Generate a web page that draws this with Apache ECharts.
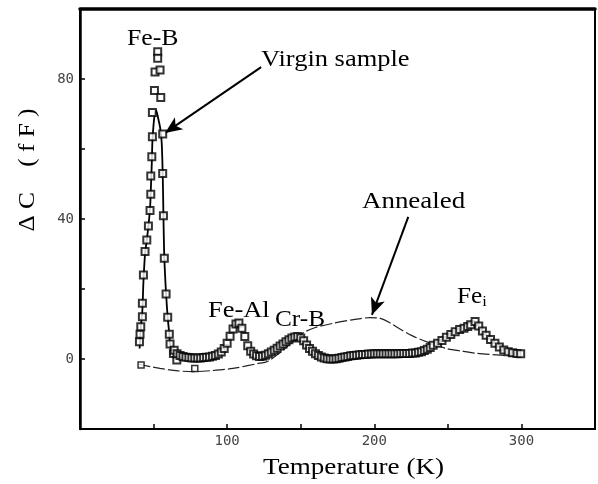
<!DOCTYPE html>
<html>
<head>
<meta charset="utf-8">
<script src="https://cdn.jsdelivr.net/npm/echarts@6/dist/echarts.min.js"></script>
<style>html,body{margin:0;padding:0;background:#fff;}#c{width:598px;height:484px;}</style>
</head>
<body>
<div id="c"></div>
<script>
// Virgin sample: measured squares (T in K, ΔC in fF)
var virginT = [40.4,40.8,41.3,42.4,42.4,43.1,44.2,45.4,46.5,47.6,48.1,48.1,48.8,49.2,49.2,50.6,51,52.8,52.8,54.4,54.9,56.2,56.2,56.7,57.3,58.5,59.6,60.7,61.2,63.5,65.8,
  64,66,68,70,72,74,76,78,80,82,84,86,88,90,92,94,96,98,100,102,104,106,108,110,112,114,116,118,120,122,124,126,128,130,132,134,136,138,140,142,144,146,148,150,152,154,156,158,160,162,164,166,168,170,172,174,176,178,180,182,184,186,188,190,192,194,196,198,200,202,204,206,208,210,212,214,216,218,220,222,224,226,228,230,232,234,236,238,240,
  243,246,249,252,255,258,261,263.5,265.5,268.5,271,273.5,276,279,282,285,288,291,294,297,299.5];
var virginC = [4.9,7.1,9.2,12.1,15.9,24,30.7,34,38,42.4,47.1,52.3,57.8,63.5,70.4,76.7,82,87.8,85.9,82.6,74.7,64.3,53,40.9,28.8,18.6,11.9,7.1,4.3,1.6,-0.3,
  2.5,1.5,1.0,0.7,0.5,0.4,0.3,0.3,0.3,0.3,0.4,0.5,0.6,0.8,1.0,1.4,2.0,3.0,4.5,6.5,8.6,10.0,10.3,8.8,6.4,3.8,2.2,1.4,0.9,0.7,0.8,1.1,1.5,2.0,2.5,3.1,3.7,4.3,4.9,5.5,6.0,6.3,6.4,6.0,5.2,4.0,3.0,2.2,1.5,1.0,0.6,0.3,0.1,0.0,0.0,0.1,0.2,0.4,0.6,0.7,0.9,1.0,1.1,1.2,1.3,1.3,1.4,1.4,1.5,1.5,1.5,1.5,1.5,1.5,1.5,1.5,1.5,1.6,1.6,1.6,1.6,1.7,1.7,1.9,2.1,2.4,2.8,3.3,3.9,4.5,
  5.3,6.2,7.0,7.8,8.4,8.8,9.3,9.8,10.7,9.4,8.0,6.8,5.6,4.5,3.4,2.6,2.1,1.8,1.6,1.5,1.4];
// Virgin sample: fitted curve
var fitT = [40.5,41.3,42.4,43.1,44.2,45.4,46.5,47.6,48.1,48.8,49.2,50,51,51.7,53,54.5,55.5,56.2,56.7,57.3,58.5,59.6,60.7,61.2,63.5,66,70];
var fitC = [3,9,14,22,30,34,38,43,48,56,62,67,70.5,71,69,66,62,53,41,29,18.6,11.9,7.1,4.3,1.6,0.3,0.3];
// Annealed curve
var annT = [39.7,54.4,66.9,77,90,104,122,127,135,142,148,153,160,172,185,197,204,210,217.7,226,235.8,249,260,270,285.7,300];
var annC = [-1.5,-2.7,-3.4,-3.6,-3.3,-2.7,-1.2,-0.8,1.5,4.0,6.2,7.8,9.0,10.2,11.2,11.8,11.6,10.5,8.5,6.6,4.9,3.0,2.2,1.6,1.1,0.6];
var annMarkT = [41.5,78];
var annMarkC = [-1.7,-2.7];
// Axis tick labels
var xLabels = [100,200,300];
var yLabels = [0,40,80];

function zip(a,b){return a.map(function(v,i){return [v,b[i]];});}

var chart = echarts.init(document.getElementById('c'));
var serif = 'Liberation Serif';
chart.setOption({
  animation:false,
  backgroundColor:'#fff',
  grid:{left:80,top:9,right:2,bottom:55,show:true,borderColor:'#000',borderWidth:2,backgroundColor:'transparent'},
  xAxis:[{
    type:'value',min:0,max:350,interval:50,
    axisLine:{show:true,onZero:false,lineStyle:{color:'#000',width:2}},
    axisTick:{show:true,inside:true,length:5,lineStyle:{color:'#000',width:1.5}},
    splitLine:{show:false},
    axisLabel:{margin:5,color:'#444',fontFamily:'DejaVu Sans Mono',fontSize:14,
      formatter:function(v){return xLabels.indexOf(v)>=0?String(v):'';}}
  },{
    type:'value',position:'top',min:0,max:350,
    axisLine:{show:true,onZero:false,lineStyle:{color:'#000',width:3.5}},
    axisTick:{show:false},axisLabel:{show:false},splitLine:{show:false}
  }],
  yAxis:{
    type:'value',min:-20,max:100,interval:20,
    axisLine:{show:true,onZero:false,lineStyle:{color:'#000',width:2.5}},
    axisTick:{show:true,inside:true,length:5,lineStyle:{color:'#000',width:1.5}},
    splitLine:{show:false},
    axisLabel:{margin:6,color:'#444',fontFamily:'DejaVu Sans Mono',fontSize:14,
      formatter:function(v){return yLabels.indexOf(v)>=0?String(v):'';}}
  },
  series:[
    {name:'Annealed',type:'line',data:zip(annT,annC),showSymbol:false,smooth:0.3,z:2,
      lineStyle:{color:'#222',width:1.2,type:[12,3]},
      markLine:{silent:true,symbol:['none','arrow'],symbolSize:[11,17],label:{show:false},
        lineStyle:{color:'#000',width:2,type:'solid'},
        data:[
          [{coord:[123.1,83.4]},{coord:[57.8,64.6]}],
          [{coord:[223.1,40.6]},{coord:[198.4,12.6]}]
        ]}
    },
    {name:'Annealed marks',type:'scatter',data:zip(annMarkT,annMarkC),symbol:'rect',symbolSize:6,z:3,
      itemStyle:{color:'#fff',borderColor:'#000',borderWidth:1.5}},
    {name:'Virgin fit',type:'line',data:zip(fitT,fitC),showSymbol:false,smooth:0.3,z:4,
      lineStyle:{color:'#000',width:1.8}},
    {name:'Virgin sample',type:'scatter',data:zip(virginT,virginC),symbol:'rect',symbolSize:7,z:5,
      itemStyle:{color:'#fff',borderColor:'#000',borderWidth:2}}
  ],
  graphic:[
    {type:'text',x:127,y:39,scaleX:1.12,z:10,style:{text:'Fe-B',font:'23px "Liberation Serif"',fill:'#000',verticalAlign:'middle',align:'left'}},
    {type:'text',x:261,y:60,scaleX:1.15,z:10,style:{text:'Virgin sample',font:'23px "Liberation Serif"',fill:'#000',verticalAlign:'middle',align:'left'}},
    {type:'text',x:362,y:202,scaleX:1.17,z:10,style:{text:'Annealed',font:'23px "Liberation Serif"',fill:'#000',verticalAlign:'middle',align:'left'}},
    {type:'text',x:208,y:311,scaleX:1.15,z:10,style:{text:'Fe-Al',font:'23px "Liberation Serif"',fill:'#000',verticalAlign:'middle',align:'left'}},
    {type:'text',x:275,y:320,scaleX:1.1,z:10,style:{text:'Cr-B',font:'23px "Liberation Serif"',fill:'#000',verticalAlign:'middle',align:'left'}},
    {type:'text',x:457,y:297,scaleX:1.1,z:10,style:{rich:{b:{fontFamily:serif,fontSize:23,fill:'#000'},s:{fontFamily:serif,fontSize:15,fill:'#000',padding:[10,0,0,0]}},text:'{b|Fe}{s|i}',verticalAlign:'middle',align:'left'}},
    {type:'text',x:263,y:468,scaleX:1.13,z:10,style:{text:'Temperature (K)',font:'24px "Liberation Serif"',fill:'#000',verticalAlign:'middle',align:'left'}},
    {type:'text',x:28,y:170,rotation:Math.PI/2,scaleX:1.1,z:10,style:{text:'\u0394 C    ( f F )',font:'23px "Liberation Serif"',fill:'#000',verticalAlign:'middle',align:'center'}}
  ]
});
</script>
</body>
</html>
